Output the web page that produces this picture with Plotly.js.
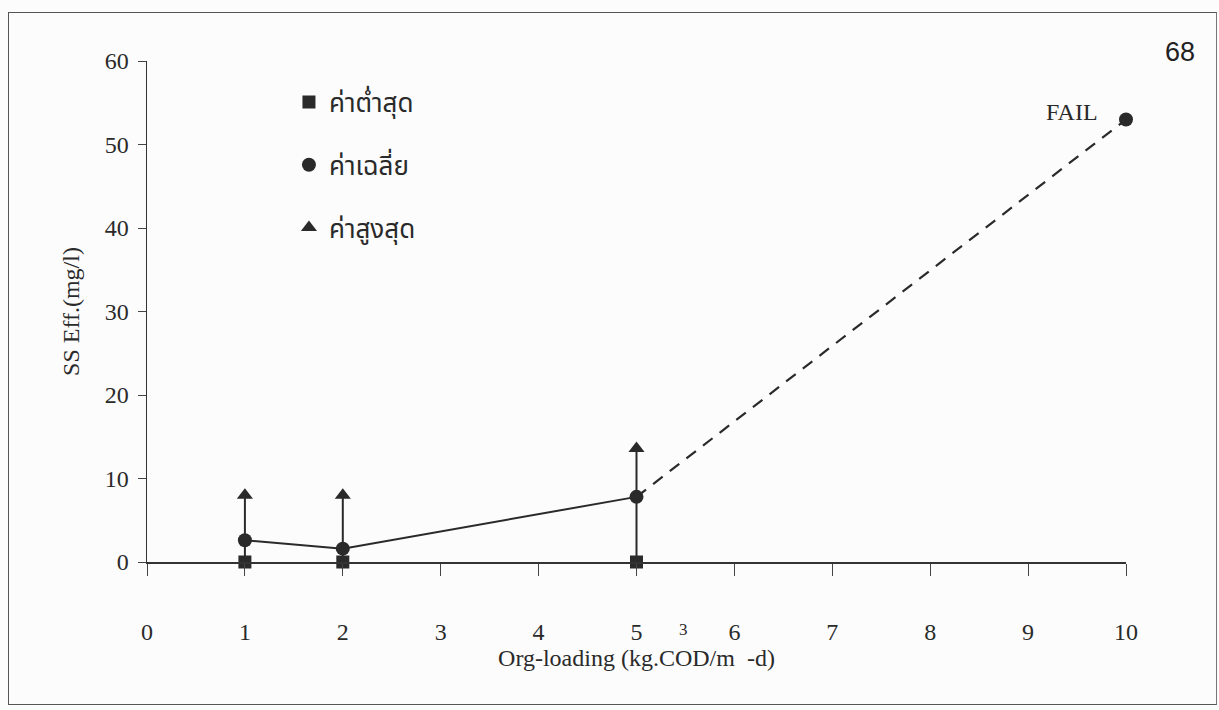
<!DOCTYPE html>
<html>
<head>
<meta charset="utf-8">
<script src="https://cdn.plot.ly/plotly-3.0.1.min.js"></script>
<style>
  html, body { margin: 0; padding: 0; background: #fcfcfc; }
  #page { position: absolute; left: 0; top: 0; width: 1219px; height: 710px; }
  #frame { position: absolute; left: 8px; top: 12px; width: 1209px; height: 693px;
           border-left: 1.5px solid #555; border-top: 1.5px solid #555;
           border-right: 1.5px solid #777; border-bottom: 1.5px solid #555; box-sizing: border-box; }
  #chart { position: absolute; left: 0; top: 0; width: 1219px; height: 710px; }
</style>
</head>
<body>
<div id="page">
  <div id="frame"></div>
  <div id="chart"></div>
</div>
<script>
// Organic loading (kg.COD/m3-d) tested
const loading = [1, 2, 5, 10];
// SS effluent (mg/l): minimum, mean, maximum at each loading
const ssMin = [0, 0, 0];
const ssMean = [2.6, 1.6, 7.8, 53];
const ssMax = [8, 8, 13.6];
const seriesNames = ['ค่าต่ำสุด', 'ค่าเฉลี่ย', 'ค่าสูงสุด'];
const xTicks = [0, 1, 2, 3, 4, 5, 6, 7, 8, 9, 10];
const yTicks = [0, 10, 20, 30, 40, 50, 60];

const ink = '#2a2a2a';
const serif = '"Liberation Serif", "DejaVu Serif", serif';
const thai = '"Noto Sans Thai", "Noto Serif Thai", "Tlwg Typo", Loma, Garuda, "Noto Sans", sans-serif';

const stable = loading.slice(0, 3);
const stableMean = ssMean.slice(0, 3);

const traces = [
  { // mean line over the stable runs, with min-max range bars
    x: stable, y: stableMean, mode: 'lines', showlegend: false, hoverinfo: 'skip',
    line: { color: ink, width: 2 }, cliponaxis: false,
    error_y: { type: 'data', symmetric: false,
      array: ssMax.map((v, i) => v - stableMean[i]),
      arrayminus: ssMin.map((v, i) => stableMean[i] - v),
      width: 0, thickness: 2, color: ink }
  },
  { // extrapolated run to the failed loading
    x: loading.slice(2), y: ssMean.slice(2), mode: 'lines', showlegend: false, hoverinfo: 'skip',
    line: { color: ink, width: 2.2, dash: '12px,9px' }, cliponaxis: false
  },
  { x: stable, y: ssMin, mode: 'markers', name: seriesNames[0], legendgroup: 'a',
    marker: { symbol: 'square', size: 13, color: ink }, cliponaxis: false },
  { x: loading, y: ssMean, mode: 'markers', name: seriesNames[1], legendgroup: 'b',
    marker: { symbol: 'circle', size: 14, color: ink }, cliponaxis: false },
  { x: stable, y: ssMax, mode: 'markers', name: seriesNames[2], legendgroup: 'c',
    marker: { symbol: 'triangle-up', size: 14, color: ink }, cliponaxis: false }
];

const layout = {
  width: 1219, height: 710,
  margin: { l: 147, r: 93, t: 61, b: 148 },
  paper_bgcolor: 'rgba(0,0,0,0)', plot_bgcolor: 'rgba(0,0,0,0)',
  font: { family: serif, color: ink, size: 24 },
  showlegend: true,
  legend: {
    x: 0.145, y: 0.965, xanchor: 'left', yanchor: 'top',
    bgcolor: 'rgba(0,0,0,0)', font: { family: thai, size: 26, color: ink },
    traceorder: 'grouped', tracegroupgap: 26, itemwidth: 30
  },
  xaxis: {
    range: [0, 10], tickvals: xTicks, ticktext: xTicks.map(String),
    showgrid: false, zeroline: false, showline: true, linecolor: '#333', linewidth: 1.5,
    ticks: 'outside', ticklen: 12, tickcolor: '#444', tickwidth: 1,
    ticklabelstandoff: 36, tickfont: { family: serif, size: 24, color: ink },
    title: { text: 'Org-loading (kg.COD/m  -d)', standoff: 0, font: { family: serif, size: 24, color: ink } }
  },
  yaxis: {
    range: [0, 60], tickvals: yTicks,
    showgrid: false, zeroline: false, showline: true, linecolor: '#333', linewidth: 1.5,
    ticks: 'outside', ticklen: 8, tickcolor: '#444', tickwidth: 1, ticklabelstandoff: 4,
    tickfont: { family: serif, size: 24, color: ink },
    title: { text: 'SS Eff.(mg/l)', standoff: 18, font: { family: serif, size: 24, color: ink } }
  },
  // companion axes carry the inward half of each crossing tick
  xaxis2: { overlaying: 'x', matches: 'x', anchor: 'y', side: 'bottom', range: [0, 10], tickvals: xTicks,
    showticklabels: false, showgrid: false, zeroline: false, showline: false,
    ticks: 'inside', ticklen: 10, tickcolor: '#444', tickwidth: 1 },
  yaxis2: { overlaying: 'y', matches: 'y', anchor: 'x', side: 'left', range: [0, 60], tickvals: yTicks,
    showticklabels: false, showgrid: false, zeroline: false, showline: false,
    ticks: 'inside', ticklen: 13, tickcolor: '#444', tickwidth: 1 },
  annotations: [
    { x: loading[3], y: ssMean[3], xref: 'x', yref: 'y', text: 'FAIL', showarrow: false,
      xanchor: 'right', yanchor: 'middle', xshift: -26, yshift: 7,
      font: { family: serif, size: 24, color: ink } },
    { x: 0.548, y: -0.135, xref: 'paper', yref: 'paper', text: '3', showarrow: false,
      xanchor: 'center', yanchor: 'middle', font: { family: serif, size: 17, color: ink } },
    { x: 1.073, y: 1.018, xref: 'paper', yref: 'paper', text: '68', showarrow: false,
      xanchor: 'right', yanchor: 'middle',
      font: { family: '"Liberation Sans", "DejaVu Sans", sans-serif', size: 27, color: '#222' } }
  ]
};

Plotly.newPlot('chart', traces, layout, { displayModeBar: false, staticPlot: true });
</script>
</body>
</html>
